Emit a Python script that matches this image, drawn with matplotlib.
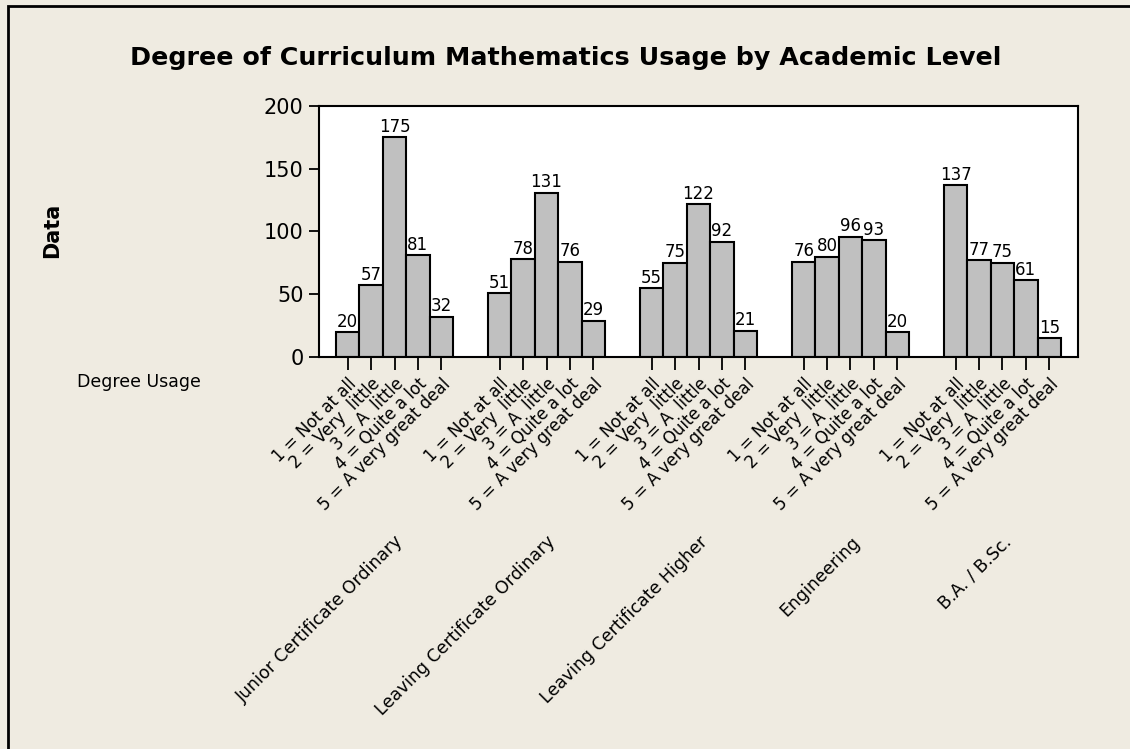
import matplotlib
matplotlib.use("Agg")
import matplotlib.pyplot as plt
import matplotlib.transforms as mtransforms
from matplotlib.patches import Rectangle

# counts for each academic level, one value per degree-of-usage answer
levels = ["Junior Certificate Ordinary", "Leaving Certificate Ordinary",
          "Leaving Certificate Higher", "Engineering", "B.A. / B.Sc."]
usage = ["1 = Not at all", "2 = Very  little", "3 = A  little",
         "4 = Quite a lot", "5 = A very great deal"]
junior_cert = [20, 57, 175, 81, 32]
leaving_ord = [51, 78, 131, 76, 29]
leaving_high = [55, 75, 122, 92, 21]
engineering = [76, 80, 96, 93, 20]
ba_bsc = [137, 77, 75, 61, 15]
counts = [junior_cert, leaving_ord, leaving_high, engineering, ba_bsc]

yticks = [0, 50, 100, 150, 200]

bg = "#efebe1"
bar_color = "#c0c0c0"
group_step = 6.5
margin = 0.73


def main():
    plt.rcParams['font.family'] = ['DejaVu Sans']
    fig = plt.figure(figsize=(11.3, 7.49), dpi=100, facecolor=bg)

    # frame around the whole graph (runs off the right and bottom edges)
    fig.patches.append(Rectangle((8 / 1130, -0.05), 1.2, 1 - 6 / 749 + 0.05,
                                 transform=fig.transFigure, fill=False,
                                 edgecolor="black", linewidth=2))

    ax = fig.add_axes([319 / 1130, 1 - 357 / 749,
                       (1078 - 319) / 1130, (357 - 106) / 749])
    ax.set_facecolor("white")

    positions = []
    labels = []
    for g, vals in enumerate(counts):
        xs = [g * group_step + i for i in range(len(vals))]
        ax.bar(xs, vals, width=1.0, color=bar_color, edgecolor="black",
               linewidth=1.5, zorder=2)
        for x, v in zip(xs, vals):
            ax.annotate(str(v), (x, v), xytext=(0, 1), textcoords="offset points",
                        ha="center", va="bottom", fontsize=12)
        positions += xs
        labels += usage

    ax.set_xlim(-0.5 - margin, positions[-1] + 0.5 + margin)
    ax.set_ylim(0, 200)
    ax.set_yticks(yticks)
    ax.tick_params(axis="y", labelsize=15, length=7, width=1.3, pad=4)
    ax.set_xticks(positions)
    ax.set_xticklabels(labels, rotation=45, ha="right", va="top",
                       rotation_mode="anchor", fontsize=12)
    ax.tick_params(axis="x", length=9, width=1.3, pad=4)
    for s in ax.spines.values():
        s.set_linewidth(1.5)

    # second row of x labels: the academic level under each group
    trans = mtransforms.blended_transform_factory(ax.transData, ax.transAxes)
    for g, name in enumerate(levels):
        xc = g * group_step + 2
        ax.text(xc, -0.7, name, transform=trans, rotation=45, ha="right",
                va="top", rotation_mode="anchor", fontsize=12.5)

    fig.text(77 / 1130, 1 - 387 / 749, "Degree Usage", ha="left",
             va="baseline", fontsize=12.5)
    fig.text(52 / 1130, 1 - 230 / 749, "Data", rotation=90, ha="center",
             va="center", fontsize=15, fontweight="bold")
    fig.text(566 / 1130, 1 - 58 / 749, "Degree of Curriculum Mathematics Usage by Academic Level",
             ha="center", va="center", fontsize=18.3, fontweight="bold")

    fig.savefig("out.png", dpi=100, facecolor=bg)


if __name__ == "__main__":
    main()
